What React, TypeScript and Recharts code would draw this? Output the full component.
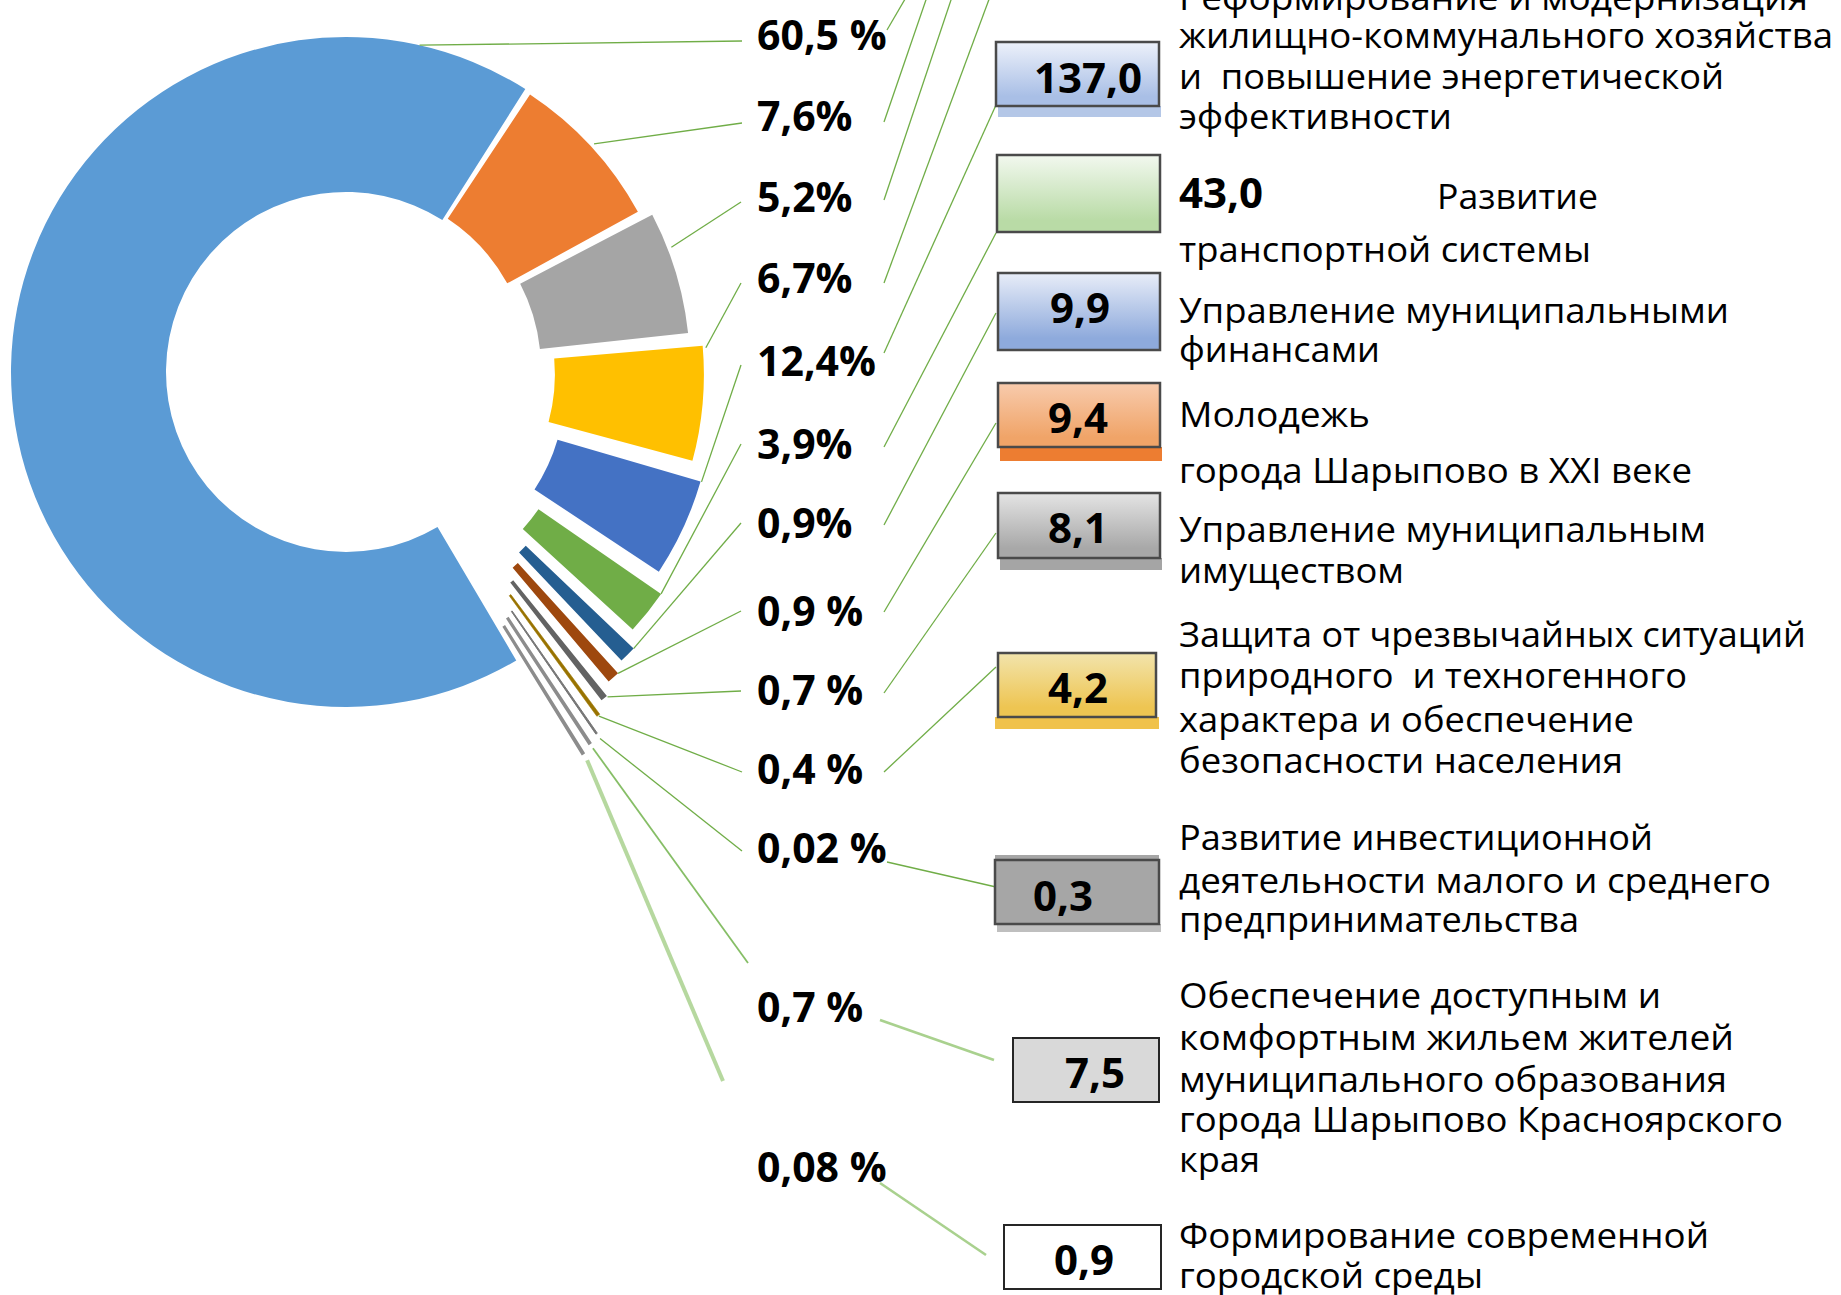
import { PieChart, Pie, Cell, Sector } from 'recharts';

// percent labels printed next to the ring (top to bottom)
const pctLabels = ['60,5 %', '7,6%', '5,2%', '6,7%', '12,4%', '3,9%', '0,9%', '0,9 %', '0,7 %', '0,4 %', '0,02 %', '0,7 %', '0,08 %'];
// share of the ring each slice takes as drawn (%)
const drawnShare = [67.54, 7.72, 5.97, 5.58, 4.78, 2.19, 0.82, 0.6, 0.33, 0.17, 0.08, 0.08, 0.08];
// programme amounts shown in the boxes
const boxValues = ['137,0', '43,0', '9,9', '9,4', '8,1', '4,2', '0,3', '7,5', '0,9'];
// programme names, split as on the slide
const descLines = [
  'Реформирование и модернизация',
  'жилищно-коммунального хозяйства',
  'и  повышение энергетической',
  'эффективности',
  'Развитие',
  'транспортной системы',
  'Управление муниципальными',
  'финансами',
  'Молодежь',
  'города Шарыпово в XXI веке',
  'Управление муниципальным',
  'имуществом',
  'Защита от чрезвычайных ситуаций',
  'природного  и техногенного',
  'характера и обеспечение',
  'безопасности населения',
  'Развитие инвестиционной',
  'деятельности малого и среднего',
  'предпринимательства',
  'Обеспечение доступным и',
  'комфортным жильем жителей',
  'муниципального образования',
  'города Шарыпово Красноярского',
  'края',
  'Формирование современной',
  'городской среды',
];

const sliceData = pctLabels.map((label, i) => ({ label, share: drawnShare[i] }));

// ---- styling / layout ----
const RAD = Math.PI / 180;
const FONT = "'Open Sans', 'Noto Sans', sans-serif";
const GREEN = '#70AD47';
const sliceColors = ['#5B9BD5', '#ED7D31', '#A5A5A5', '#FFC000', '#4472C4', '#70AD47', '#255E91', '#9E480E', '#636363', '#997300', '#767676', '#8C8C8C', '#8C8C8C'];
const explode = [0, 1, 12.5, 26, 39.5, 53.5, 67, 74, 84, 94, 108, 112, 117];
const sliceStroke = [0, 0, 0, 0, 0, 0, 0, 0, 0, 0.6, 1, 2.2, 2.2];
const leaderFrac = [0.919, 0.5, 0.3, 0.02, 0, 0, 0, 0, 0, 0.5, 0.5, 0.5, 0.5];
const leaderGap = [0, 4, 4, 3, 1, 0, 0, 0, 1, 1, 6, 6, 8];
const pctBaseline = [50, 131, 212, 293, 376, 459, 538, 626, 705, 784, 863, 1022, 1182];
const leaderEnd = [[742, 41], [742, 123], [741, 202], [741, 283], [741, 365], [741, 444], [741, 523], [741, 611], [741, 691], [742, 772], [742, 851], [748, 963], [723, 1081]];

// boxes: x, y, w, h, gradient top/bottom, strip
const boxes = [
  { x: 996, y: 42, w: 163, h: 64, top: '#EDF1FA', bot: '#A9BFE6', strip: { y: 106, h: 11, c: '#B4C7E7' } },
  { x: 997, y: 155, w: 163, h: 77, top: '#F2F8EF', bot: '#B9DBA6' },
  { x: 998, y: 273, w: 162, h: 77, top: '#E8EDF8', bot: '#8EAADC' },
  { x: 998, y: 383, w: 162, h: 64, top: '#F8CBAD', bot: '#F0A468', strip: { y: 447, h: 14, c: '#ED7D31' } },
  { x: 998, y: 493, w: 162, h: 65, top: '#E4E4E4', bot: '#A8A8A8', strip: { y: 558, h: 12, c: '#A5A5A5' } },
  { x: 998, y: 653, w: 158, h: 64, top: '#F2E4AC', bot: '#EEC552', strip: { y: 717, h: 12, c: '#F0C24B', x: 995, w: 164 } },
  { x: 995, y: 860, w: 164, h: 64, top: '#A6A6A6', bot: '#A6A6A6', strip: { y: 924, h: 8, c: '#BFBFBF' }, cap: '#A6A6A6' },
  { x: 1013, y: 1038, w: 146, h: 64, top: '#D9D9D9', bot: '#D9D9D9', dark: true },
  { x: 1004, y: 1225, w: 157, h: 64, top: '#FFFFFF', bot: '#FFFFFF', dark: true },
];
// value text position inside each box (centre x, baseline); box 1 value sits in the text column
const boxText = [[1088, 93], [1179, 208], [1080, 323], [1078, 433], [1078, 543], [1078, 703], [1063, 911], [1095, 1088], [1084, 1275]];

// description lines: baseline y, right edge x (text starts at 1179 unless noted)
const descPos = [
  [10, 1808], [48, 1833], [89, 1724], [129, 1452], [209, 1598, 1437], [262, 1591], [323, 1729], [362, 1380],
  [427, 1370], [483, 1692], [542, 1706], [583, 1404], [647, 1806], [688, 1687], [732, 1634], [773, 1623],
  [850, 1653], [893, 1771], [932, 1579], [1008, 1661], [1050, 1734], [1092, 1727], [1132, 1783], [1172, 1260],
  [1248, 1709], [1288, 1483],
];

// connectors from percent labels to boxes
const connectors = [
  [887, 30, 908, -6], [884, 122, 928, -6], [884, 200, 953, -6], [884, 283, 991, -6],
  [884, 353, 996, 105], [884, 447, 996, 233], [884, 525, 996, 313], [884, 612, 996, 423],
  [884, 693, 996, 533], [884, 772, 996, 667], [887, 862, 996, 887],
];
const softConnectors = [[880, 1020, 994, 1060], [880, 1183, 986, 1255]];

function renderSlice(props: any) {
  const { cx, cy, innerRadius, outerRadius, startAngle, endAngle, midAngle, index } = props;
  const d = explode[index];
  const ox = cx + d * Math.cos(-midAngle * RAD);
  const oy = cy + d * Math.sin(-midAngle * RAD);
  const inset = index === 0 ? 0 : 3;
  const a = startAngle + (endAngle - startAngle) * leaderFrac[index];
  const r = outerRadius - inset + leaderGap[index];
  const sx = ox + r * Math.cos(-a * RAD);
  const sy = oy + r * Math.sin(-a * RAD);
  const [ex, ey] = leaderEnd[index];
  const lColor = index === 12 ? '#A9D18E' : index === 11 ? '#86BE66' : GREEN;
  const lWidth = index === 12 ? 4 : index === 11 ? 1.8 : 1.3;
  return (
    <g>
      {index > 0 && (
        <Sector
          cx={ox}
          cy={oy}
          innerRadius={innerRadius + inset}
          outerRadius={outerRadius - inset}
          startAngle={startAngle}
          endAngle={endAngle}
          fill={sliceColors[index]}
          stroke={sliceStroke[index] ? sliceColors[index] : 'none'}
          strokeWidth={sliceStroke[index]}
        />
      )}
      <line x1={sx} y1={sy} x2={ex} y2={ey} stroke={lColor} strokeWidth={lWidth} strokeOpacity={index === 12 ? 0.85 : 1} />
      <text x={757} y={pctBaseline[index]} fontFamily={FONT} fontWeight={700} fontSize={41} fill="#000">
        {pctLabels[index]}
      </text>
    </g>
  );
}

export default function App() {
  return (
    <div style={{ position: 'relative', width: 1841, height: 1295, overflow: 'hidden', background: '#fff' }}>
      <style>{'body{margin:0}'}</style>
      <div style={{ position: 'absolute', left: 0, top: 0 }}>
        <PieChart width={1841} height={1295} margin={{ top: 0, right: 0, bottom: 0, left: 0 }}>
          <Pie
            data={sliceData}
            dataKey="share"
            nameKey="label"
            cx={346}
            cy={372}
            innerRadius={180}
            outerRadius={335}
            startAngle={-59.45}
            endAngle={-419.45}
            paddingAngle={1.15}
            stroke="none"
            isAnimationActive={false}
            labelLine={false}
            label={renderSlice}
          >
            {sliceData.map((_, i) => (
              <Cell key={i} fill={i === 0 ? sliceColors[0] : 'none'} />
            ))}
          </Pie>
        </PieChart>
      </div>
      <svg width={1841} height={1295} style={{ position: 'absolute', left: 0, top: 0, pointerEvents: 'none' }}>
        <defs>
          {boxes.map((b, i) => (
            <linearGradient key={i} id={`bx${i}`} x1="0" y1="0" x2="0" y2="1">
              <stop offset="0%" stopColor={b.top} />
              <stop offset="85%" stopColor={b.bot} />
            </linearGradient>
          ))}
        </defs>
        {connectors.map(([x1, y1, x2, y2], i) => (
          <line key={i} x1={x1} y1={y1} x2={x2} y2={y2} stroke={GREEN} strokeWidth={1.3} />
        ))}
        {softConnectors.map(([x1, y1, x2, y2], i) => (
          <line key={i} x1={x1} y1={y1} x2={x2} y2={y2} stroke="#A9D18E" strokeWidth={2.6} />
        ))}
        {boxes.map((b, i) => (
          <g key={i}>
            {b.cap && <rect x={b.x} y={b.y - 5} width={b.w} height={5} fill={b.cap} />}
            {b.strip && (
              <rect x={b.strip.x ?? b.x + 2} y={b.strip.y} width={b.strip.w ?? b.w} height={b.strip.h} fill={b.strip.c} />
            )}
            <rect
              x={b.x}
              y={b.y}
              width={b.w}
              height={b.h}
              fill={`url(#bx${i})`}
              stroke={b.dark ? '#262626' : '#4A4A4A'}
              strokeWidth={b.dark ? 2 : 2.5}
            />
            <text
              x={boxText[i][0]}
              y={boxText[i][1]}
              textAnchor={i === 1 ? 'start' : 'middle'}
              fontFamily={FONT}
              fontWeight={700}
              fontSize={42}
              fill="#000"
            >
              {boxValues[i]}
            </text>
          </g>
        ))}
        {descLines.map((t, i) => {
          const [y, right, left = 1179] = descPos[i];
          return (
            <text
              key={i}
              x={left}
              y={y}
              fontFamily={FONT}
              fontSize={34}
              fill="#000"
              textLength={right - left}
              lengthAdjust="spacingAndGlyphs"
              style={{ whiteSpace: 'pre' }}
            >
              {t}
            </text>
          );
        })}
      </svg>
    </div>
  );
}
